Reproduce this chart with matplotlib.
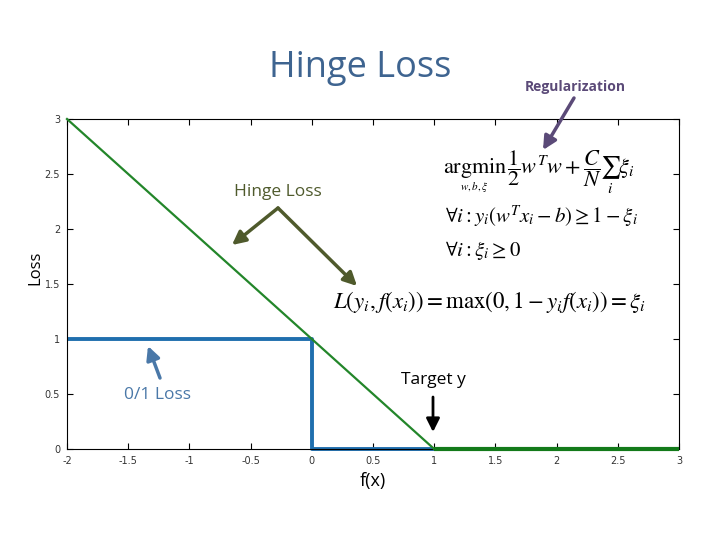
import matplotlib
matplotlib.use("Agg")
import matplotlib.pyplot as plt

# data
hinge_x = [-2, 1, 3]
hinge_y = [3, 0, 0]
zero_one_x = [-2, 0, 0, 1]
zero_one_y = [1, 1, 0, 0]
xticks = [-2, -1.5, -1, -0.5, 0, 0.5, 1, 1.5, 2, 2.5, 3]
xtick_labels = ["-2", "-1.5", "-1", "-0.5", "0", "0.5", "1", "1.5", "2", "2.5", "3"]
yticks = [0, 0.5, 1, 1.5, 2, 2.5, 3]
ytick_labels = ["0", "0.5", "1", "1.5", "2", "2.5", "3"]

plt.rcParams['mathtext.fontset'] = 'stix'

fig = plt.figure(figsize=(7.2, 5.4), dpi=100)
ax = fig.add_axes([67/720, 1-449/540, (679-67)/720, (449-119)/540])

ax.plot(zero_one_x, zero_one_y, color='#1f6fae', lw=2.8, solid_capstyle='butt', zorder=2,
        clip_on=False)
ax.plot(hinge_x[:2], hinge_y[:2], color='#23862a', lw=1.6, zorder=3, clip_on=False)
ax.plot(hinge_x[1:], hinge_y[1:], color='#137a1a', lw=3.0, solid_capstyle='butt', zorder=3,
        clip_on=False)

ax.set_xlim(-2, 3)
ax.set_ylim(0, 3)
ax.set_xticks(xticks)
ax.set_xticklabels(xtick_labels)
ax.set_yticks(yticks)
ax.set_yticklabels(ytick_labels)
ax.tick_params(direction='in', top=True, right=True, labelsize=7, labelcolor='#333333',
               length=4, width=0.8, pad=5)
for s in ax.spines.values():
    s.set_linewidth(0.8)

fs = 'Open Sans'
fig.text(360/720, 1-68/540, "Hinge Loss", fontsize=26, color='#3e6490', family=fs,
         ha='center', va='center')
fig.text(575/720, 1-87/540, "Regularization", fontsize=10, color='#5b4a78', family=fs,
         weight='bold', ha='center', va='center')
fig.text(278/720, 1-192/540, "Hinge Loss", fontsize=12.5, color='#4f5a2c', family=fs,
         ha='center', va='center')
fig.text(158/720, 1-395/540, "0/1 Loss", fontsize=12.5, color='#4a78a8', family=fs,
         ha='center', va='center')
fig.text(433/720, 1-380/540, "Target y", fontsize=12.5, color='black', family=fs,
         ha='center', va='center')
fig.text(35/720, 1-268/540, "Loss", fontsize=12, color='black', family=fs,
         ha='center', va='center', rotation=90)
fig.text(373/720, 1-481/540, "f(x)", fontsize=13, color='black', family=fs,
         ha='center', va='center')

def farrow(x0, y0, x1, y1, color, lw=2.5):
    fig.add_artist(matplotlib.patches.FancyArrowPatch(
        (x0/720, 1-y0/540), (x1/720, 1-y1/540), transform=fig.transFigure,
        arrowstyle='-|>,head_length=5,head_width=2.5', mutation_scale=1.6,
        color=color, lw=lw, shrinkA=0, shrinkB=0))

farrow(574, 98, 543, 150, '#5b4a78')
farrow(278, 208, 232, 245, '#4f5a2c')
farrow(278, 208, 357, 286, '#4f5a2c')
farrow(160, 378, 148, 346, '#4a78a8')
farrow(433, 397, 433, 432, 'black', lw=2)

fig.text(443/720, 1-173/540, r"$\mathrm{argmin}$", fontsize=16, ha='left', va='baseline')
fig.text(474/720, 1-187/540, r"$w,b,\xi$", fontsize=8, ha='center', va='center')
fig.text(507/720, 1-173/540, r"$\dfrac{1}{2}w^Tw+\dfrac{C}{N}\sum_i\xi_i$",
         fontsize=16, ha='left', va='baseline')
fig.text(445/720, 1-217/540, r"$\forall i: y_i\left(w^Tx_i-b\right)\geq 1-\xi_i$",
         fontsize=15, ha='left', va='center')
fig.text(445/720, 1-251/540, r"$\forall i: \xi_i \geq 0$",
         fontsize=15, ha='left', va='center')
fig.text(333/720, 1-302/540, r"$L(y_i, f(x_i)) = \mathrm{max}(0, 1-y_if(x_i)) = \xi_i$",
         fontsize=16.5, ha='left', va='center')

fig.savefig("out.png", dpi=100)
